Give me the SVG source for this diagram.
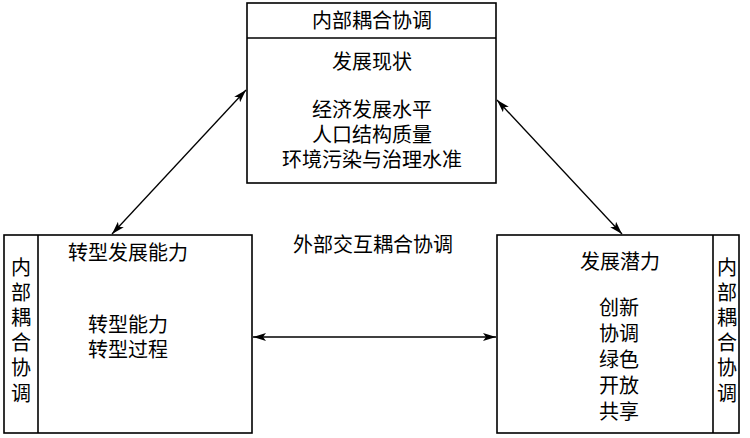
<svg xmlns="http://www.w3.org/2000/svg" width="750" height="438" viewBox="0 0 750 438">
<defs>
<style>
.box{fill:#fff;stroke:#000;stroke-width:1.6}
.ln{stroke:#000;stroke-width:1.6;fill:none}
.t{font-family:"Liberation Sans","Noto Sans CJK SC",sans-serif;font-size:20px;fill:#000;text-anchor:middle;dominant-baseline:central}
.c{stroke:#000;stroke-width:1.3;fill:none;marker-start:url(#a);marker-end:url(#a)}
</style>
<marker id="a" viewBox="0 0 13 8" refX="13" refY="4" markerWidth="13" markerHeight="8" markerUnits="userSpaceOnUse" orient="auto-start-reverse">
<path d="M0,0 L13,4 L0,8 L3,4 Z" fill="#000"/>
</marker>
</defs>
<g id="top">
<rect class="box" x="247" y="3" width="249" height="180"/>
<line class="ln" x1="247" y1="38" x2="496" y2="38"/>
<text class="t" x="372" y="21">内部耦合协调</text>
<text class="t" x="372" y="62">发展现状</text>
<text class="t" x="372" y="110">经济发展水平</text>
<text class="t" x="372" y="135">人口结构质量</text>
<text class="t" x="372" y="160">环境污染与治理水准</text>
</g>
<g id="left">
<rect class="box" x="4" y="235" width="248" height="198"/>
<line class="ln" x1="38" y1="235" x2="38" y2="433"/>
<text class="t" x="21" y="268">内</text>
<text class="t" x="21" y="293">部</text>
<text class="t" x="21" y="318">耦</text>
<text class="t" x="21" y="343">合</text>
<text class="t" x="21" y="368">协</text>
<text class="t" x="21" y="394">调</text>
<text class="t" x="128" y="253">转型发展能力</text>
<text class="t" x="128" y="325">转型能力</text>
<text class="t" x="128" y="350">转型过程</text>
</g>
<g id="right">
<rect class="box" x="497" y="235" width="242" height="198"/>
<line class="ln" x1="713" y1="235" x2="713" y2="433"/>
<text class="t" x="727" y="268">内</text>
<text class="t" x="727" y="293">部</text>
<text class="t" x="727" y="318">耦</text>
<text class="t" x="727" y="343">合</text>
<text class="t" x="727" y="368">协</text>
<text class="t" x="727" y="394">调</text>
<text class="t" x="620" y="262">发展潜力</text>
<text class="t" x="619" y="308">创新</text>
<text class="t" x="619" y="334">协调</text>
<text class="t" x="619" y="360">绿色</text>
<text class="t" x="619" y="386">开放</text>
<text class="t" x="619" y="412">共享</text>
</g>
<g id="label">
<text class="t" x="373" y="245">外部交互耦合协调</text>
</g>
<g id="connectors">
<line class="c" x1="246" y1="90" x2="112" y2="234"/>
<line class="c" x1="497" y1="100" x2="622" y2="234"/>
<line class="c" x1="253" y1="337" x2="496" y2="337"/>
</g>
</svg>
